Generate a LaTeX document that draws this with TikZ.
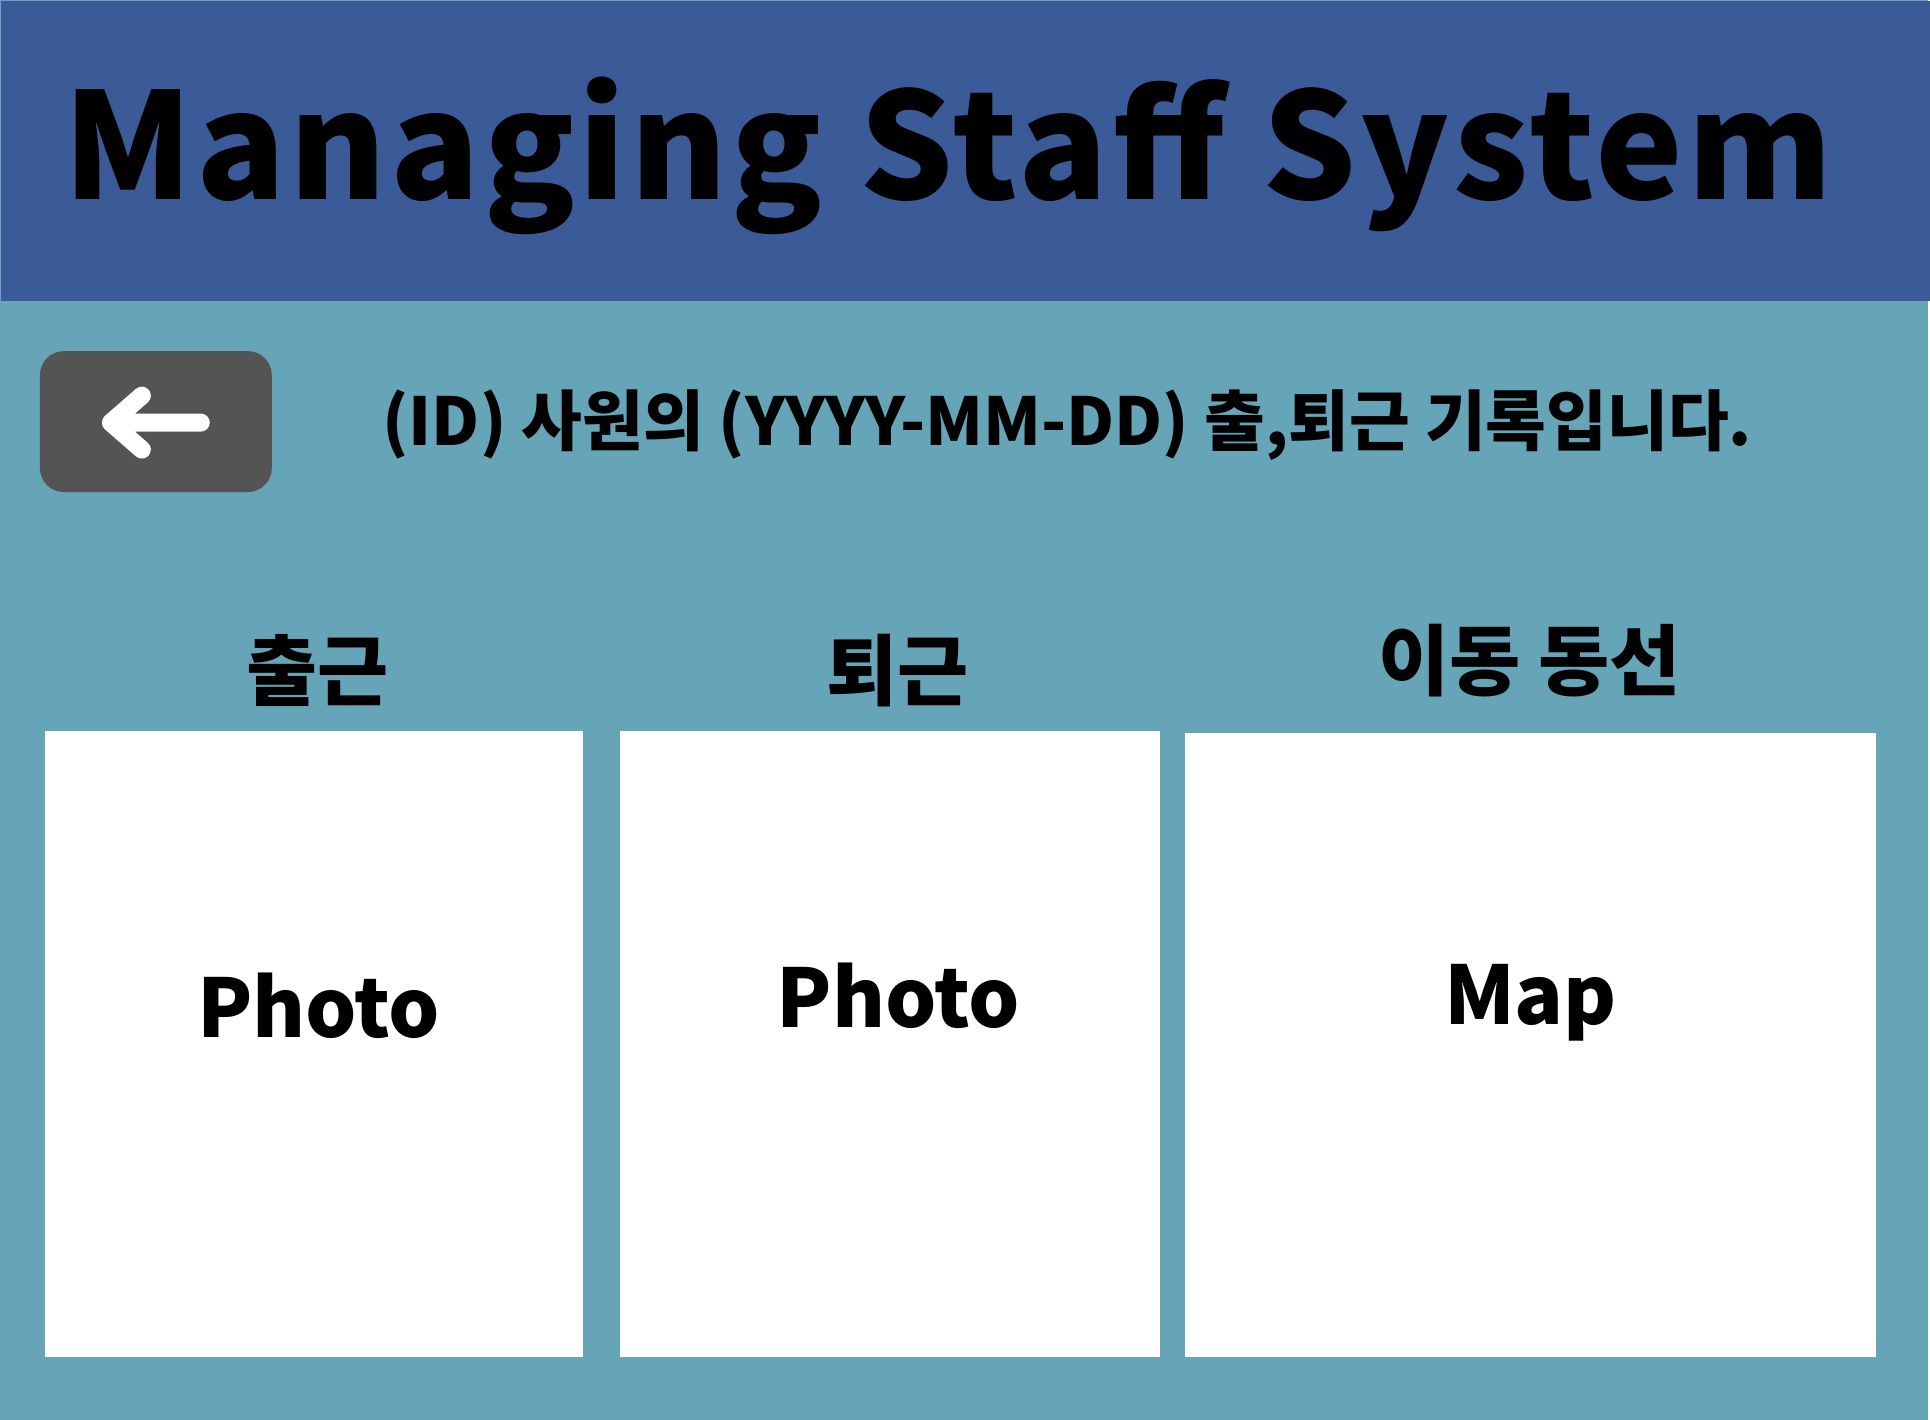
\documentclass[tikz,border=0pt]{standalone}
\usepackage{fontspec}
\newfontfamily\kr{Noto Sans CJK KR}
\definecolor{headblue}{RGB}{59,91,152}
\definecolor{pageteal}{RGB}{102,165,183}
\definecolor{btngray}{RGB}{84,84,84}

\begin{document}
\begin{tikzpicture}[x=0.01cm,y=-0.01cm,inner sep=0,
  panel/.style={fill=white,anchor=north west},
  caption/.style={anchor=base,font=\kr\bfseries\fontsize{22}{26}\selectfont},
  bigword/.style={anchor=base,font=\kr\bfseries\fontsize{23}{27}\selectfont}]
  % page and header band
  \fill[pageteal] (0,0) rectangle (1930,1421);
  \node[fill=headblue,anchor=north west,minimum width=19.3cm,minimum height=3cm] (header) at (0,0) {};
  \node[anchor=base,font=\kr\bfseries\fontsize{42}{48}\selectfont\addfontfeatures{LetterSpace=2.6}] (title) at (949,200) {Managing Staff System};
  % back button
  \node[fill=btngray,rounded corners=0.24cm,minimum width=2.32cm,minimum height=1.41cm] (backbtn) at (156,422) {};
  \draw[white,line width=0.18cm,line cap=round,line join=round] (142,396) -- (111,423) -- (142,450) (111,423) -- (201,423);
  \node[anchor=base west,font=\kr\bfseries\fontsize{18.8}{22}\selectfont] (info) at (382,446) {(ID) 사원의 (YYYY-MM-DD) 출,퇴근 기록입니다.};
  % columns
  \node[caption] (lblIn) at (318,700) {출근};
  \node[caption] (lblOut) at (898,700) {퇴근};
  \node[caption] (lblRoute) at (1531,690) {이동 동선};
  \node[panel,minimum width=5.39cm,minimum height=6.26cm] (boxIn) at (44,731) {};
  \node[panel,minimum width=5.4cm,minimum height=6.26cm] (boxOut) at (620,731) {};
  \node[panel,minimum width=6.92cm,minimum height=6.24cm] (boxRoute) at (1185,733) {};
  \node[bigword] (photoIn) at (319,1038) {Photo};
  \node[bigword] (photoOut) at (899,1028) {Photo};
  \node[bigword] (mapRoute) at (1532,1025) {Map};
\end{tikzpicture}
\end{document}
